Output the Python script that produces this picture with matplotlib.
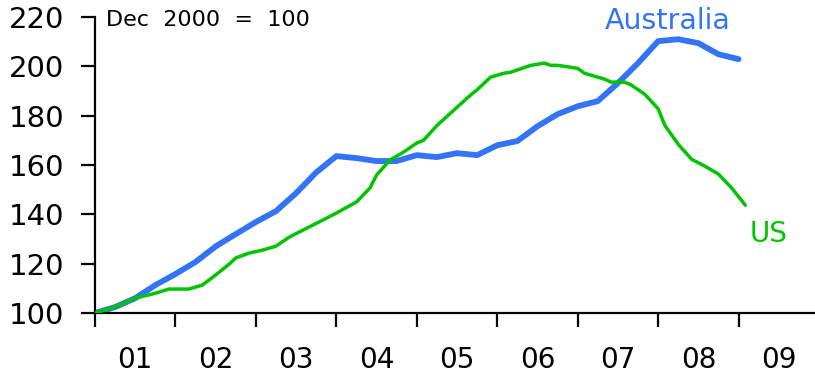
import matplotlib
matplotlib.use("Agg")
import matplotlib.pyplot as plt
from matplotlib.ticker import FixedLocator, NullFormatter

# Australia: quarterly index, Dec 2000 = 100 (quarters since Dec 2000)
aus_quarters = list(range(33))
aus_values = [100, 102.4, 106, 111.3, 115.8, 120.7, 127, 132, 136.9, 141.3,
              148.6, 157, 163.6, 162.8, 161.6, 161.6, 164, 163.2, 164.8, 164,
              168, 169.7, 175.7, 180.6, 183.8, 185.9, 193.2, 201.3, 210.2,
              211, 209.4, 204.9, 202.9]

# US: monthly index, Dec 2000 = 100 (months since Dec 2000)
us_months = [0, 3, 6, 9, 11, 14, 16, 18, 20, 21, 23, 25, 27, 29, 34, 36, 39,
             41, 42, 44, 46, 48, 49, 51, 54, 56, 57, 59, 61, 62, 65, 67, 68,
             69, 71, 72, 73, 76, 77, 79, 80, 82, 84, 85, 87, 89, 91, 93, 95, 97]
us_values = [100, 102.4, 106, 108, 109.7, 109.7, 111.3, 115.4, 119.8, 122.3,
             124.3, 125.5, 127.1, 130.8, 137.7, 140.5, 145, 150.6, 155.9, 162,
             165.2, 168.9, 170, 176, 183.4, 188.3, 190.5, 195.6, 197.2, 197.6,
             200.4, 201.3, 200.4, 200.4, 199.6, 199.2, 197.2, 194.8, 193.6,
             193.6, 192.4, 188.7, 182.8, 176.1, 168.4, 162.3, 159.5, 156.3,
             150.6, 143.7]

year_labels = ["01", "02", "03", "04", "05", "06", "07", "08", "09"]
y_ticks = [100, 120, 140, 160, 180, 200, 220]

BLUE = "#3374F6"
GREEN = "#00C400"

W, H = 815, 376

aus_x = [2001 + q / 4 for q in aus_quarters]
us_x = [2001 + m / 12 for m in us_months]

fig = plt.figure(figsize=(W / 100, H / 100), dpi=100)
ax = fig.add_axes([95 / W, 1 - 313 / H, 1 - 95 / W, (313 - 17) / H])

ax.plot(us_x, us_values, color=GREEN, lw=2.5, solid_joinstyle="round",
        solid_capstyle="round", zorder=3)
ax.plot(aus_x, aus_values, color=BLUE, lw=4.2, solid_joinstyle="round",
        solid_capstyle="round", zorder=2)

ax.set_xlim(2001, 2009.95)
ax.set_ylim(100, 220)

for s in ["top", "right"]:
    ax.spines[s].set_visible(False)
for s in ["left", "bottom"]:
    ax.spines[s].set_linewidth(1.6)
    ax.spines[s].set_color("black")

ax.set_yticks(y_ticks)
ax.set_yticklabels([str(v) for v in y_ticks], fontsize=21)
ax.tick_params(axis="y", direction="out", length=10, width=1.6, pad=12)

n_years = len(year_labels)
ax.xaxis.set_major_locator(FixedLocator([2001 + i for i in range(n_years)]))
ax.xaxis.set_major_formatter(NullFormatter())
ax.xaxis.set_minor_locator(FixedLocator([2001.5 + i for i in range(n_years)]))
ax.set_xticklabels(year_labels, minor=True, fontsize=20)
ax.tick_params(axis="x", which="major", direction="out", length=10, width=1.6)
ax.tick_params(axis="x", which="minor", length=0, pad=24)

def fig_xy(px, py):
    return px / W, 1 - py / H

ax.text(*fig_xy(106, 26), "Dec  2000  =  100", transform=fig.transFigure,
        fontsize=16, ha="left", va="baseline", color="black")
ax.text(*fig_xy(605, 29), "Australia", transform=fig.transFigure,
        fontsize=20.5, ha="left", va="baseline", color=BLUE)
ax.text(*fig_xy(750, 242), "US", transform=fig.transFigure,
        fontsize=20, ha="left", va="baseline", color=GREEN)

ax.patch.set_visible(False)
fig.savefig("out.png", dpi=100)
